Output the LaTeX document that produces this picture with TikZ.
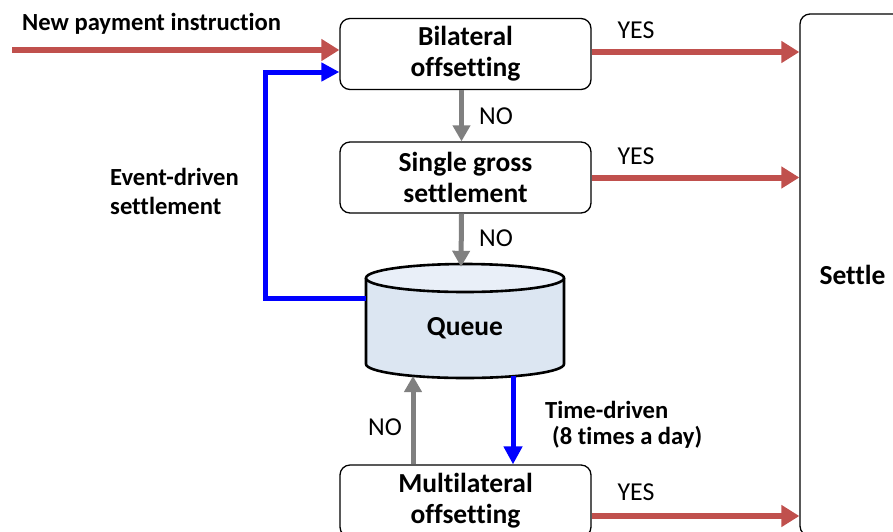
\documentclass[tikz,border=0pt]{standalone}
\usepackage{fontspec}
\setmainfont[Ligatures=NoCommon]{Carlito}
\usetikzlibrary{arrows.meta}
\definecolor{flowred}{HTML}{C0504D}
\definecolor{flowblue}{HTML}{0000FF}
\definecolor{flowgray}{HTML}{808080}
\definecolor{qbody}{HTML}{DCE6F2}
\definecolor{qtop}{HTML}{E9EFF8}
\tikzset{
  stepbox/.style={draw=black, line width=1.3pt, rounded corners=10pt,
    minimum width=251pt, minimum height=71pt, align=center,
    font=\fontsize{27.5}{31}\selectfont\bfseries},
  lbl/.style={font=\fontsize{25.8}{30}\selectfont, inner sep=0pt},
  blbl/.style={font=\fontsize{24.6}{29}\selectfont\bfseries, inner sep=0pt},
  redarrow/.style={draw=flowred, line width=6pt, -{Triangle[length=18pt,width=21pt]}},
  bluearrow/.style={draw=flowblue, line width=5pt, -{Triangle[length=18pt,width=18pt]}},
  grayarrow/.style={draw=flowgray, line width=5pt, -{Triangle[length=16pt,width=17pt]}},
  cyl/.style={draw=black, line width=2.6pt}
}
\begin{document}
\begin{tikzpicture}[x=1pt, y=-1pt]
\useasboundingbox (0,0) rectangle (893,531);
\clip (0,0) rectangle (893,531);

% process boxes
\node[stepbox] (bil) at (465.5,54) {Bilateral\\offsetting};
\node[stepbox] (single) at (465.5,177.5) {Single gross\\settlement};
\node[stepbox, minimum height=72pt] (multi) at (465.5,501) {Multilateral\\offsetting};
\node[stepbox, minimum width=105pt, minimum height=522pt] (settle) at (852.5,275) {Settle};

% queue drawn as a cylinder around an invisible node
\node[minimum width=198pt, minimum height=114pt, inner sep=0pt] (queue) at (465,321) {};
\draw[cyl, fill=qbody] (366,278) -- (366,364)
  arc[start angle=180, end angle=0, x radius=99, y radius=14] -- (564,278);
\draw[cyl, fill=qtop] (465,278) ellipse [x radius=99, y radius=14];
\node[font=\fontsize{27.5}{31}\selectfont\bfseries] (qtext) at (465,328) {Queue};

% incoming instruction
\coordinate (start) at (12,50);
\draw[redarrow] (start) -- (start -| bil.west);
\node[blbl, anchor=west] (newlbl) at (22,24) {New payment instruction};

% settle on success
\draw[redarrow] ([yshift=2pt]bil.east) -- ([yshift=2pt]bil.east -| settle.west);
\draw[redarrow] (single.east) -- (single.east -| settle.west);
\draw[redarrow] ([yshift=-15pt]multi.east) -- ([yshift=-15pt]multi.east -| settle.west);
\node[lbl] (yes1) at (636,30) {YES};
\node[lbl] (yes2) at (636,156) {YES};
\node[lbl] (yes3) at (636,492) {YES};

% fall through on failure
\draw[grayarrow] ([xshift=-4pt]bil.south) -- ([xshift=-4pt]single.north);
\draw[grayarrow] ([xshift=-4pt]single.south) -- ([xshift=-4pt,yshift=-3pt]queue.north);
\node[lbl] (no1) at (496,116) {NO};
\node[lbl] (no2) at (496,238) {NO};

% event-driven loop back
\coordinate (ev) at (265,298);
\draw[bluearrow] (ev -| queue.west) -- (ev) |- ([yshift=-18pt]bil.west);
\node[blbl, anchor=west, align=left] (evlbl) at (110,191) {Event-driven\\settlement};

% time-driven multilateral run
\coordinate (td) at (513,376);
\draw[bluearrow] (td) -- (td |- multi.north);
\node[blbl, anchor=west] (tdlbl1) at (545,410) {Time-driven};
\node[blbl, anchor=west] (tdlbl2) at (552,437) {(8 times a day)};

\coordinate (back) at (413,376);
\draw[grayarrow] (back |- multi.north) -- (back);
\node[lbl] (no3) at (385,427) {NO};
\end{tikzpicture}
\end{document}
